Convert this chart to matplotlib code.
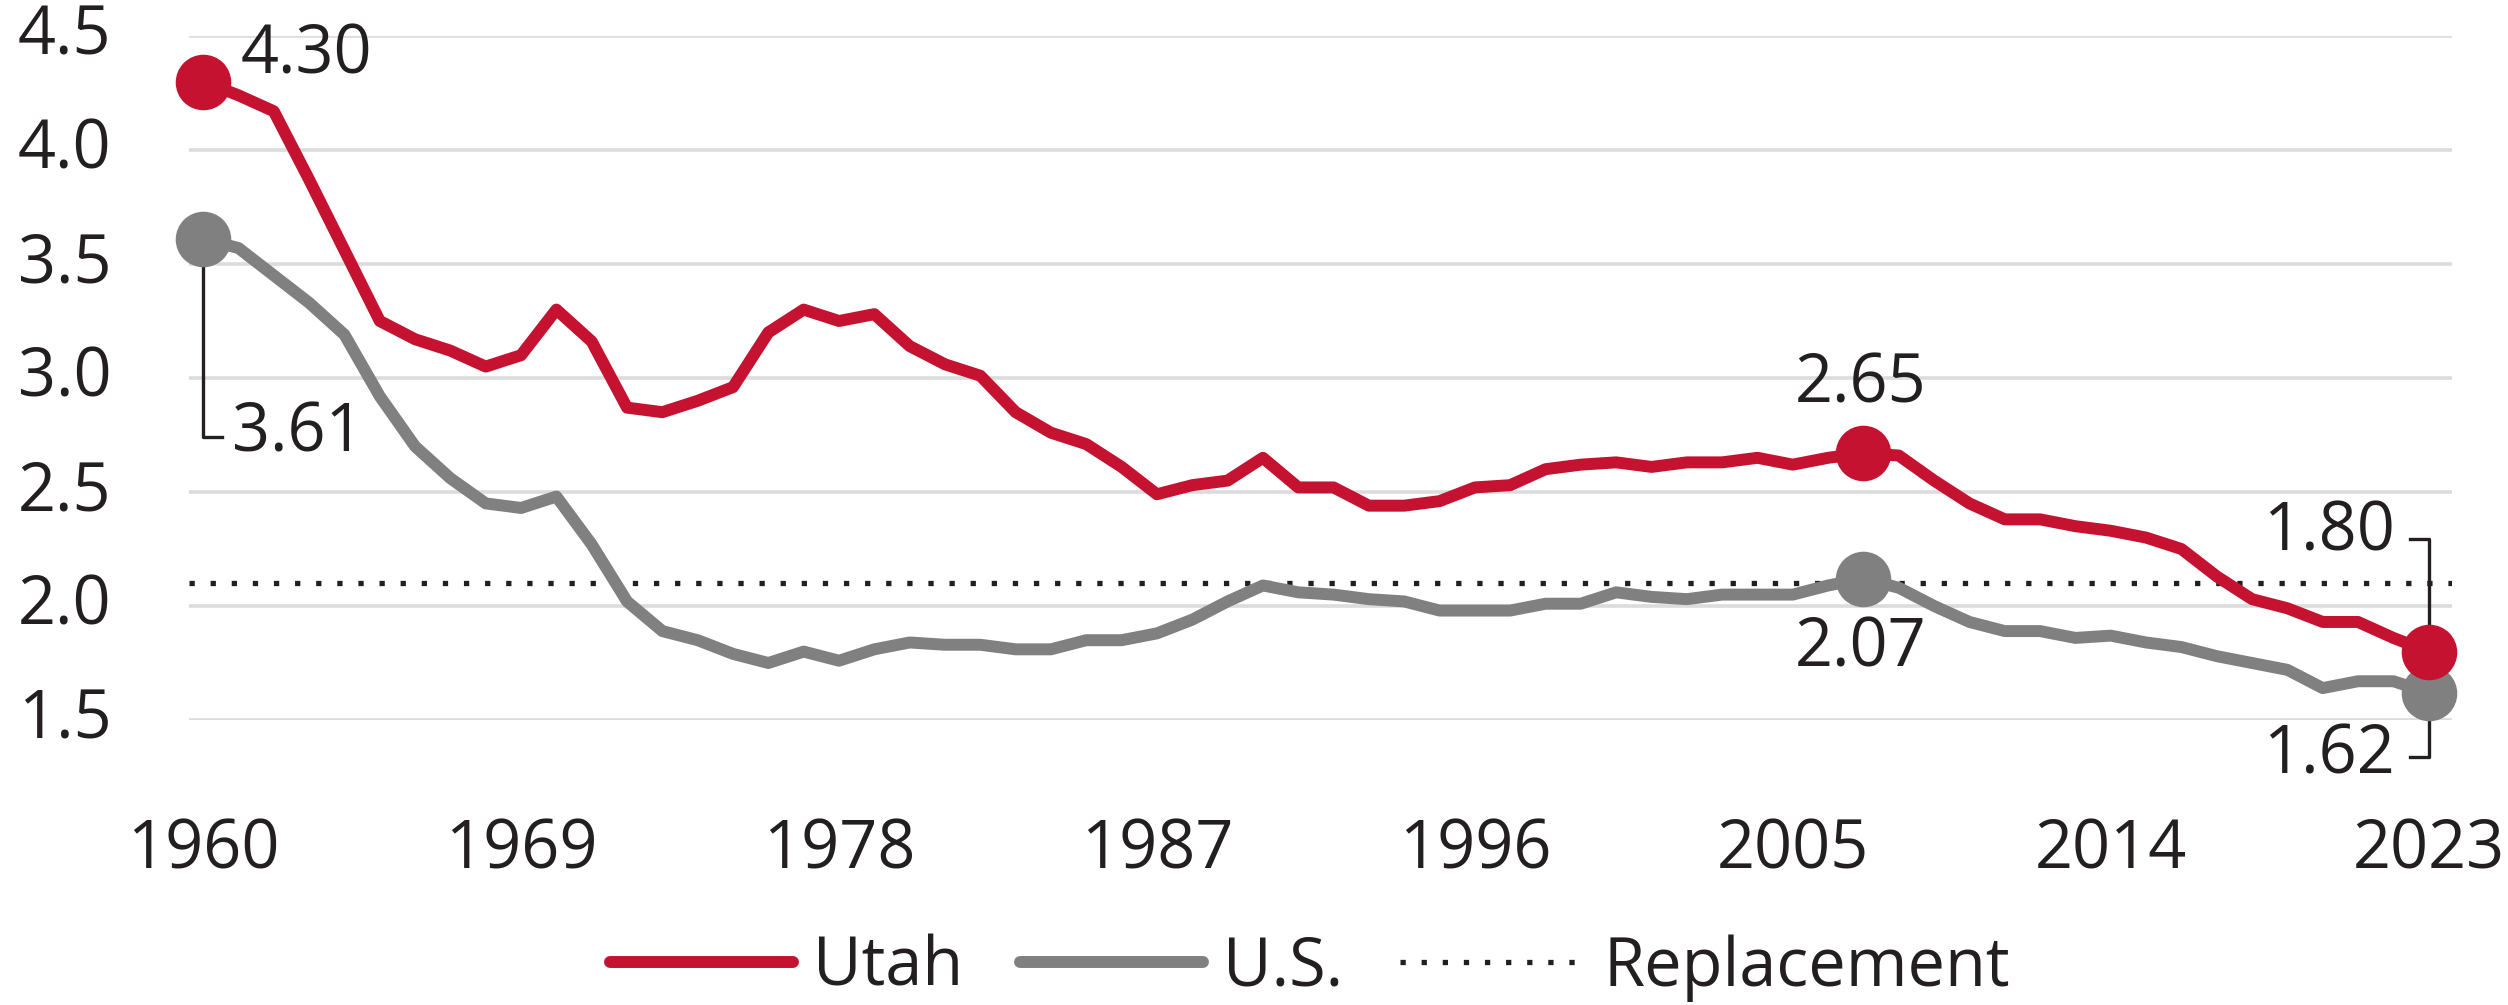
import numpy as np
import matplotlib
matplotlib.use('Agg')
import matplotlib.pyplot as plt
from matplotlib.lines import Line2D
from matplotlib.transforms import ScaledTranslation

plt.rcParams['font.family'] = ['Open Sans', 'DejaVu Sans']

# Taxa de fecundidade total
years = list(range(1960, 2024))
utah = [4.30, 4.24, 4.17, 3.87, 3.56, 3.25, 3.17, 3.12, 3.05, 3.10,
        3.30, 3.16, 2.87, 2.85, 2.90, 2.96, 3.20, 3.30, 3.25, 3.28,
        3.14, 3.06, 3.01, 2.85, 2.76, 2.71, 2.61, 2.49, 2.53, 2.55,
        2.65, 2.52, 2.52, 2.44, 2.44, 2.46, 2.52, 2.53, 2.60, 2.62,
        2.63, 2.61, 2.63, 2.63, 2.65, 2.62, 2.65, 2.67, 2.66, 2.55,
        2.45, 2.38, 2.38, 2.35, 2.33, 2.30, 2.25, 2.13, 2.03, 1.99,
        1.93, 1.93, 1.86, 1.80]
us = [3.61, 3.57, 3.45, 3.33, 3.19, 2.92, 2.70, 2.56, 2.45, 2.43,
      2.48, 2.27, 2.02, 1.89, 1.85, 1.79, 1.75, 1.80, 1.76, 1.81,
      1.84, 1.83, 1.83, 1.81, 1.81, 1.85, 1.85, 1.88, 1.94, 2.02,
      2.09, 2.06, 2.05, 2.03, 2.02, 1.98, 1.98, 1.98, 2.01, 2.01,
      2.06, 2.04, 2.03, 2.05, 2.05, 2.05, 2.09, 2.12, 2.08, 2.00,
      1.93, 1.89, 1.89, 1.86, 1.87, 1.84, 1.82, 1.78, 1.75, 1.72,
      1.64, 1.67, 1.67, 1.62]
replacement = 2.1
highlight_years = [1960, 2007, 2023]
utah_labels = ['4.30', '2.65', '1.80']
us_labels = ['3.61', '2.07', '1.62']
x_ticks = [1960, 1969, 1978, 1987, 1996, 2005, 2014, 2023]
y_ticks = [1.5, 2.0, 2.5, 3.0, 3.5, 4.0, 4.5]

RED = '#c41230'
GRAY = '#808080'
INK = '#231f20'
FS = 48
LW = 8.6

W, H = 2508, 1005
fig = plt.figure(figsize=(W / 100, H / 100), dpi=100)
ax = fig.add_axes([189 / W, (H - 720) / H, (2452 - 189) / W, (720 - 36) / H])

ax.set_xlim(1959.6, 2023.66)
ax.set_ylim(1.5, 4.5)

for s in ax.spines.values():
    s.set_visible(False)
ax.set_yticks(y_ticks)
ax.set_yticklabels([f'{v:.1f}' for v in y_ticks])
ax.set_xticks(x_ticks)
ax.set_xticklabels([str(y) for y in x_ticks])
ax.tick_params(axis='both', length=0, labelsize=FS, colors=INK)
ax.tick_params(axis='x', pad=70)
ax.tick_params(axis='y', pad=56)
for lab in ax.get_yticklabels():
    lab.set_transform(lab.get_transform() + ScaledTranslation(0, 0.07, fig.dpi_scale_trans))
ax.grid(axis='y', color='#dcdcdc', linewidth=2.6, zorder=0)
ax.set_axisbelow(True)

ax.axhline(replacement, color=INK, linewidth=3.8, linestyle=(0, (1, 3.0)),
           dash_capstyle='butt', zorder=1)

ax.plot(years, us, color=GRAY, linewidth=LW, solid_joinstyle='round', zorder=3)
ax.plot(years, utah, color=RED, linewidth=LW, solid_joinstyle='round', zorder=4)

idx = [years.index(y) for y in highlight_years]
hx = [years[i] for i in idx]
ax.plot(hx, [us[i] for i in idx], 'o', color=GRAY, markersize=39, zorder=5, clip_on=False)
ax.plot(hx, [utah[i] for i in idx], 'o', color=RED, markersize=39, zorder=6, clip_on=False)


def leader(x, y, pts):
    # linha em pixels (100 px = 1 polegada) a partir do ponto
    t = fig.dpi_scale_trans + ScaledTranslation(x, y, ax.transData)
    xs = [p[0] / 100 for p in pts]
    ys = [p[1] / 100 for p in pts]
    ax.plot(xs, ys, color=INK, linewidth=2.4, transform=t, zorder=2, clip_on=False)


def label(text, x, y, dx, dy, ha):
    ax.annotate(text, xy=(x, y), xytext=(dx * 0.72, dy * 0.72), textcoords='offset points',
                ha=ha, va='center', fontsize=FS, color=INK, zorder=7)


i0, i1, i2 = idx
label(utah_labels[0], years[i0], utah[i0], 37, 26, 'left')
label(us_labels[0], years[i0], us[i0], 29, -195, 'left')
leader(years[i0], us[i0], [(0, 0), (0, -198), (19, -198)])

label(utah_labels[1], years[i1], utah[i1], -3, 68, 'center')
label(us_labels[1], years[i1], us[i1], -3, -70, 'center')

label(utah_labels[2], years[i2], utah[i2], -34, 119, 'right')
leader(years[i2], utah[i2], [(0, 0), (0, 113), (-19, 113)])
label(us_labels[2], years[i2], us[i2], -34, -63, 'right')
leader(years[i2], us[i2], [(0, 0), (0, -64), (-19, -64)])

handles = [
    Line2D([], [], color=RED, linewidth=LW, solid_capstyle='round'),
    Line2D([], [], color=GRAY, linewidth=LW, solid_capstyle='round'),
    Line2D([], [], color=INK, linewidth=3.8, linestyle=(0, (1, 3.0))),
]
fig.legend(handles, ['Utah', 'U.S.', 'Replacement'], loc='center',
           bbox_to_anchor=(1310 / W, (H - 968) / H), ncol=3, frameon=False,
           fontsize=FS, handlelength=2.75, handletextpad=0.3, columnspacing=0.85,
           labelcolor=INK, borderpad=0)

plt.savefig('out.png', dpi=100)
